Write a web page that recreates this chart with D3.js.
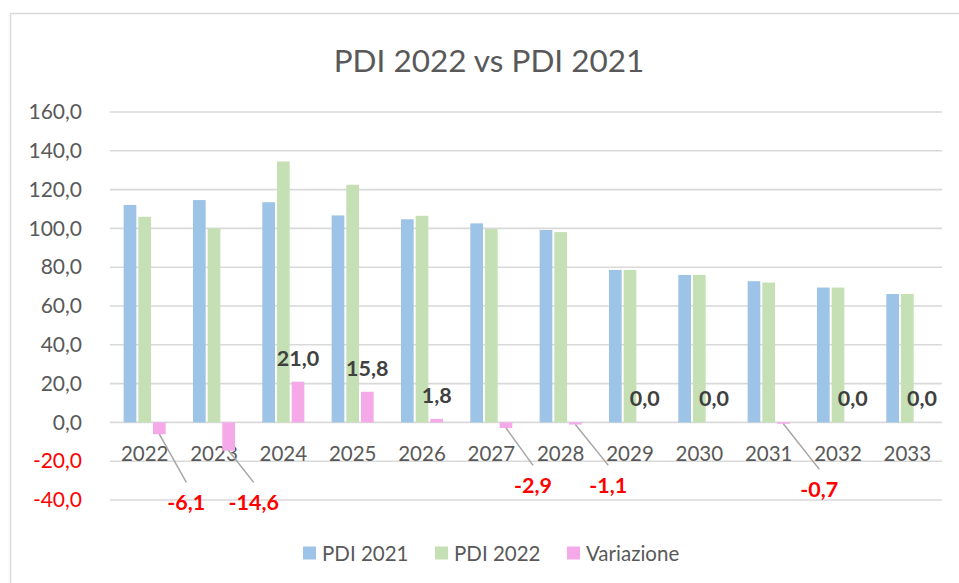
<!DOCTYPE html>
<html><head><meta charset="utf-8">
<script src="https://cdn.jsdelivr.net/npm/d3@7"></script>
<style>
html,body{margin:0;padding:0;background:#fff;}
svg{display:block;font-family:Lato,"Open Sans",sans-serif;}
</style></head>
<body>
<svg id="chart" width="959" height="583"></svg>
<script>
const categories = ["2022","2023","2024","2025","2026","2027","2028","2029","2030","2031","2032","2033"];
const pdi2021 = [112.1,114.6,113.5,106.7,104.7,102.6,99.2,78.6,76.0,72.8,69.5,66.2];
const pdi2022 = [106.0,100.0,134.5,122.5,106.5,99.7,98.1,78.6,76.0,72.1,69.5,66.2];
const variazione = [-6.1,-14.6,21.0,15.8,1.8,-2.9,-1.1,0.0,0.0,-0.7,0.0,0.0];
const seriesNames = ["PDI 2021","PDI 2022","Variazione"];
const yTicks = [-40,-20,0,20,40,60,80,100,120,140,160];
const chartTitle = "PDI 2022 vs PDI 2021";

// layout / style (not data)
const colors = ["#9DC3E6","#C5E0B4","#F5A9E9"];
// leader-label placement for negative values: [dx from bar centre, dy below zero line]
const leaderNudge = {"2022":[27,80],"2023":[25,80],"2027":[27,63],"2028":[33,63],"2031":[36,67]};

const svg = d3.select("#chart");
const locale = d3.formatLocale({decimal:",", thousands:".", grouping:[3], currency:["","€"], minus:"-"});
const fmt = locale.format(".1f");

svg.append("rect").attr("x",10.5).attr("y",13.5).attr("width",960).attr("height",580)
  .attr("fill","#fff").attr("stroke","#D9D9D9").attr("stroke-width",1.5);

const pL = 110, pR = 942, pT = 112, pB = 500;
const y = d3.scaleLinear().domain([-40,160]).range([pB, pT]);
const x = d3.scaleBand().domain(categories).range([pL,pR]).paddingInner(0.365).paddingOuter(0.1825);
const xs = d3.scaleBand().domain(d3.range(3)).range([0, x.bandwidth()]);

// title
svg.append("text").attr("x",489).attr("y",60).attr("text-anchor","middle").attr("dominant-baseline","central")
  .attr("fill","#595959").attr("font-size",31.5).text(chartTitle);

// grid
svg.append("g").selectAll("line").data(yTicks).join("line")
  .attr("x1",pL).attr("x2",pR).attr("y1",d=>y(d)).attr("y2",d=>y(d))
  .attr("stroke","#D9D9D9").attr("stroke-width",1.6);

// y axis labels
const yAxis = d3.axisLeft(y).tickValues(yTicks).tickFormat(fmt).tickSize(0).tickPadding(0);
const ya = svg.append("g").attr("transform",`translate(82,0)`).call(yAxis);
ya.select(".domain").remove();
ya.selectAll("text").attr("font-size",21).attr("font-family","Lato,'Open Sans',sans-serif")
  .attr("fill",d=>d<0?"#FF0000":"#595959");

// x axis labels
const xAxis = d3.axisBottom(x).tickSize(0).tickPadding(0);
const xa = svg.append("g").attr("transform",`translate(0,${y(0)})`).call(xAxis);
xa.select(".domain").remove();
xa.selectAll("text").attr("font-size",20.5).attr("font-family","Lato,'Open Sans',sans-serif")
  .attr("fill","#595959").attr("dy",null).attr("y",31).attr("dominant-baseline","central");

// bars
const seriesData = [pdi2021, pdi2022, variazione];
seriesData.forEach((vals, si) => {
  svg.append("g").selectAll("rect").data(vals).join("rect")
    .attr("x",(d,i)=>x(categories[i])+xs(si)+1)
    .attr("width",xs.bandwidth()-2)
    .attr("y",d=>Math.min(y(d),y(0)))
    .attr("height",d=>Math.abs(y(d)-y(0)))
    .attr("fill",colors[si]);
});

// data labels for variazione
const lab = svg.append("g").attr("font-weight","bold").attr("font-size",21.5);
variazione.forEach((v,i) => {
  const cx = x(categories[i]) + xs(2) + xs.bandwidth()/2;
  if (v >= 0) {
    lab.append("text").attr("x",cx).attr("y",y(v)-24).attr("text-anchor","middle")
      .attr("dominant-baseline","central").attr("fill","#404040").text(fmt(v));
  } else {
    const n = leaderNudge[categories[i]] || [30,70];
    const lx = cx + n[0], ly = y(0) + n[1];
    svg.append("line").attr("x1",cx).attr("y1",y(v)).attr("x2",lx).attr("y2",ly-20)
      .attr("stroke","#A6A6A6").attr("stroke-width",1.5);
    lab.append("text").attr("x",lx).attr("y",ly).attr("text-anchor","middle")
      .attr("dominant-baseline","central").attr("fill","#FF0000").text(fmt(v));
  }
});

// legend
const legendX = [303, 435, 567];
const lg = svg.append("g");
seriesNames.forEach((name,i) => {
  lg.append("rect").attr("x",legendX[i]).attr("y",546.5).attr("width",13).attr("height",13).attr("fill",colors[i]);
  lg.append("text").attr("x",legendX[i]+19).attr("y",553).attr("dominant-baseline","central")
    .attr("font-size",20.5).attr("fill","#595959").text(name);
});
</script>
</body></html>
